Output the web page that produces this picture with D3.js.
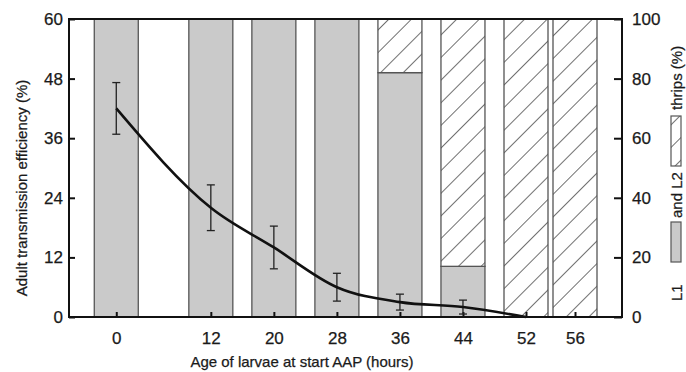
<!DOCTYPE html>
<html>
<head>
<meta charset="utf-8">
<script src="https://cdn.jsdelivr.net/npm/d3@7"></script>
<style>
  body { margin: 0; background: #fff; }
  svg text { font-family: "Liberation Sans", Arial, Helvetica, sans-serif; fill: #1a1a1a; stroke: #1a1a1a; stroke-width: 0.25px; }
</style>
</head>
<body>
<div id="chart"></div>
<script>
// bars: share of L1 / L2 larvae at each age (right axis, %)
const hours = [0, 12, 20, 28, 36, 44, 52, 56];
const l1Pct = [100, 100, 100, 100, 82, 17, 0, 0];
const l2Pct = [0, 0, 0, 0, 18, 83, 100, 100];

// line: adult transmission efficiency (left axis, %)
const effHours = [0, 12, 20, 28, 36, 44, 52];
const effMean = [42, 22, 14, 6, 3, 2, 0];
const effErr = [5.2, 4.6, 4.3, 2.8, 1.6, 1.4, 0];

const leftTicks = [0, 12, 24, 36, 48, 60];
const rightTicks = [0, 20, 40, 60, 80, 100];

const width = 686, height = 372;
const box = { left: 69, right: 622, top: 19, bottom: 317 };
const barW = 44;

const svg = d3.select('#chart').append('svg')
  .attr('width', width)
  .attr('height', height);

const defs = svg.append('defs');
const hatch = defs.append('pattern')
  .attr('id', 'hatch')
  .attr('patternUnits', 'userSpaceOnUse')
  .attr('width', 16).attr('height', 16)
  .attr('patternTransform', 'rotate(45)');
hatch.append('rect').attr('width', 16).attr('height', 16).attr('fill', '#fff');
hatch.append('line')
  .attr('x1', 0).attr('y1', 0).attr('x2', 0).attr('y2', 16)
  .attr('stroke', '#333').attr('stroke-width', 1.4);

// x is linear in hours, except the last bar which is pushed right so it does not overlap
const x = d3.scaleLinear()
  .domain([-6, 52, 56, 62])
  .range([box.left, 526, 575, box.right]);

const yL = d3.scaleLinear().domain([0, 60]).range([box.bottom, box.top]);
const yR = d3.scaleLinear().domain([0, 100]).range([box.bottom, box.top]);

const bars = hours.map((h, i) => ({ h, l1: l1Pct[i], l2: l2Pct[i] }));

// L1 part (grey)
svg.append('g').selectAll('rect')
  .data(bars.filter(d => d.l1 > 0))
  .join('rect')
  .attr('x', d => x(d.h) - barW / 2)
  .attr('y', d => yR(d.l1))
  .attr('width', barW)
  .attr('height', d => yR(0) - yR(d.l1))
  .attr('fill', '#cacaca')
  .attr('stroke', '#555')
  .attr('stroke-width', 1.3);

// L2 part (hatched), stacked on top
svg.append('g').selectAll('rect')
  .data(bars.filter(d => d.l2 > 0))
  .join('rect')
  .attr('x', d => x(d.h) - barW / 2)
  .attr('y', d => yR(d.l1 + d.l2))
  .attr('width', barW)
  .attr('height', d => yR(d.l1) - yR(d.l1 + d.l2))
  .attr('fill', 'url(#hatch)')
  .attr('stroke', '#555')
  .attr('stroke-width', 1.3);

// axes
const tickFont = g => g.selectAll('text').style('font-size', '17px');

svg.append('g')
  .attr('transform', `translate(${box.left},0)`)
  .call(d3.axisLeft(yL).tickValues(leftTicks).tickSizeInner(-6).tickSizeOuter(0).tickPadding(6))
  .call(g => g.select('.domain').remove())
  .call(g => g.selectAll('line').attr('stroke', '#111').attr('stroke-width', 2))
  .call(tickFont);

svg.append('g')
  .attr('transform', `translate(${box.right},0)`)
  .call(d3.axisRight(yR).tickValues(rightTicks).tickSizeInner(-8).tickSizeOuter(0).tickPadding(10))
  .call(g => g.select('.domain').remove())
  .call(g => g.selectAll('line').attr('stroke', '#111').attr('stroke-width', 2))
  .call(tickFont);

svg.append('g')
  .attr('transform', `translate(0,${box.bottom})`)
  .call(d3.axisBottom(x).tickValues(hours).tickSizeInner(-5).tickSizeOuter(0).tickPadding(15))
  .call(g => g.select('.domain').remove())
  .call(g => g.selectAll('line').attr('stroke', '#111').attr('stroke-width', 2))
  .call(tickFont);

// frame
svg.append('rect')
  .attr('x', box.left).attr('y', box.top)
  .attr('width', box.right - box.left).attr('height', box.bottom - box.top)
  .attr('fill', 'none').attr('stroke', '#111').attr('stroke-width', 2);

// error bars
const pts = effHours.map((h, i) => ({ h, m: effMean[i], e: effErr[i] }));
const eb = svg.append('g').attr('stroke', '#222').attr('stroke-width', 1.3);
eb.selectAll('line.v').data(pts.filter(d => d.e > 0)).join('line')
  .attr('class', 'v')
  .attr('x1', d => x(d.h)).attr('x2', d => x(d.h))
  .attr('y1', d => yL(d.m + d.e)).attr('y2', d => yL(Math.max(0, d.m - d.e)));
['top', 'bot'].forEach(k => {
  eb.selectAll('line.' + k).data(pts.filter(d => d.e > 0)).join('line')
    .attr('class', k)
    .attr('x1', d => x(d.h) - 4).attr('x2', d => x(d.h) + 4)
    .attr('y1', d => yL(k === 'top' ? d.m + d.e : Math.max(0, d.m - d.e)))
    .attr('y2', d => yL(k === 'top' ? d.m + d.e : Math.max(0, d.m - d.e)));
});

// mean line
svg.append('path')
  .datum(pts)
  .attr('fill', 'none')
  .attr('stroke', '#111')
  .attr('stroke-width', 2.6)
  .attr('d', d3.line().x(d => x(d.h)).y(d => yL(d.m)).curve(d3.curveMonotoneX));

// axis titles
svg.append('text')
  .attr('transform', `translate(27,${(box.top + box.bottom) / 2 + 20}) rotate(-90)`)
  .attr('text-anchor', 'middle')
  .style('font-size', '15px')
  .text('Adult transmission efficiency (%)');

svg.append('text')
  .attr('x', 302).attr('y', 367)
  .attr('text-anchor', 'middle')
  .style('font-size', '15px')
  .text('Age of larvae at start AAP (hours)');

// right title with inline legend swatches, read bottom to top
const leg = svg.append('g').attr('transform', 'translate(682,0)');
const legText = (yy, t) => leg.append('text')
  .attr('transform', `translate(0,${yy}) rotate(-90)`)
  .style('font-size', '15px')
  .text(t);
legText(301, 'L1');
leg.append('rect').attr('x', -11).attr('y', 222).attr('width', 10).attr('height', 40)
  .attr('fill', '#cacaca').attr('stroke', '#555').attr('stroke-width', 1.2);
legText(218, 'and L2');
leg.append('rect').attr('x', -11).attr('y', 116).attr('width', 10).attr('height', 50)
  .attr('fill', 'url(#hatch)').attr('stroke', '#555').attr('stroke-width', 1.2);
legText(110, 'thrips (%)');
</script>
</body>
</html>
